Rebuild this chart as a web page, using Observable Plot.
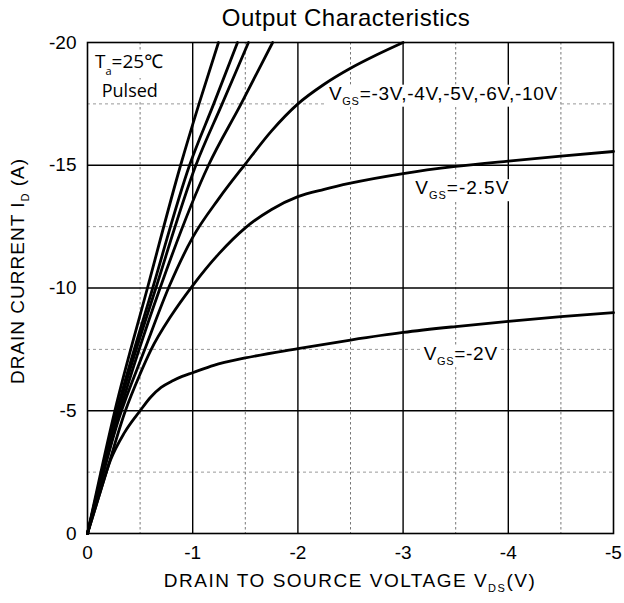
<!DOCTYPE html>
<html><head><meta charset="utf-8">
<script src="https://cdn.jsdelivr.net/npm/d3@7"></script>
<script src="https://cdn.jsdelivr.net/npm/@observablehq/plot@0.6"></script>
<style>body{margin:0;background:#fff} #chart svg{display:block;background:#fff}</style>
</head><body><div id="chart"></div>
<script>
// ---- data ----
const xTicks = [0, -1, -2, -3, -4, -5];
const yTicks = [0, -5, -10, -15, -20];
const xMinor = [-0.5, -1.5, -2.5, -3.5, -4.5];
const yMinor = [-2.5, -7.5, -12.5, -17.5];

const vgsNames = ["-2V", "-2.5V", "-3V", "-4V", "-5V", "-6V", "-10V"];

const vds_2V = [0, -0.1, -0.22, -0.35, -0.5, -0.6, -0.7, -0.8, -0.9, -1.0, -1.2, -1.5, -2, -2.5, -3, -3.5, -4, -4.5, -5];
const id_2V  = [0, -1.4, -3.0, -4.1, -5.0, -5.55, -5.95, -6.2, -6.4, -6.55, -6.85, -7.15, -7.53, -7.88, -8.19, -8.43, -8.64, -8.83, -9.0];

const vds_25V = [0, -0.2, -0.36, -0.5, -0.6, -0.8, -1.0, -1.25, -1.5, -1.75, -2, -2.25, -2.5, -3, -3.5, -4, -4.5, -5];
const id_25V  = [0, -2.8, -5.0, -6.5, -7.45, -8.9, -10.1, -11.4, -12.45, -13.2, -13.72, -14.02, -14.27, -14.66, -14.95, -15.17, -15.37, -15.56];

const vds_3V = [0, -0.3, -0.54, -0.78, -1.0, -1.25, -1.5, -1.75, -2.0, -2.25, -2.5, -2.75, -3.0];
const id_3V  = [0, -4.7, -7.45, -10.1, -12.06, -13.65, -15.05, -16.4, -17.5, -18.3, -18.95, -19.5, -20.0];

const vds_4V = [0, -0.31, -0.69, -1.15, -1.46, -1.76];
const id_4V  = [0, -5, -10, -15, -17.5, -20];

const vds_5V = [0, -0.29, -0.65, -1.03, -1.28, -1.53];
const id_5V  = [0, -5, -10, -15, -17.5, -20];

const vds_6V = [0, -0.28, -0.62, -0.97, -1.2, -1.426];
const id_6V  = [0, -5, -10, -15, -17.5, -20];

const vds_10V = [0, -0.26, -0.57, -0.885, -1.06, -1.245];
const id_10V  = [0, -5, -10, -15, -17.5, -20];

const seriesX = [vds_2V, vds_25V, vds_3V, vds_4V, vds_5V, vds_6V, vds_10V];
const seriesY = [id_2V, id_25V, id_3V, id_4V, id_5V, id_6V, id_10V];

const titleText = "Output Characteristics";
const xLabelParts = [["DRAIN TO SOURCE VOLTAGE V", false], ["DS", true], ["(V)", false]];
const yLabelParts = [["DRAIN CURRENT I", false], ["D", true], [" (A)", false]];

// annotations: [vds, id, parts]
const noteTa = { x: -0.076, y: -18.94, parts: [["T", false], ["a", true], ["=25℃", false]] };
const notePulsed = { x: -0.14, y: -17.75, parts: [["Pulsed", false]] };
const noteVgs3 = { x: -2.3, y: -17.65, parts: [["V", false], ["GS", true], ["=-3V,-4V,-5V,-6V,-10V", false]] };
const noteVgs25 = { x: -3.12, y: -13.8, parts: [["V", false], ["GS", true], ["=-2.5V", false]] };
const noteVgs2 = { x: -3.2, y: -7.05, parts: [["V", false], ["GS", true], ["=-2V", false]] };

// build table
const table = [];
vgsNames.forEach((name, i) => {
  seriesX[i].forEach((v, j) => table.push({ vgs: name, vds: v, id: seriesY[i][j] }));
});

const FONT = "Arial, 'Liberation Sans', Helvetica, sans-serif";

const chart = Plot.plot({
  width: 624,
  height: 603,
  marginLeft: 87,
  marginRight: 11,
  marginTop: 42,
  marginBottom: 70,
  style: { fontFamily: FONT, background: "#fff" },
  x: { domain: [0, -5], ticks: xTicks, tickFormat: d => String(d) },
  y: { domain: [0, -20], ticks: yTicks, tickFormat: d => String(d) },
  marks: [
    Plot.ruleX(xMinor, { stroke: "#777", strokeWidth: 1, strokeDasharray: "2.5,2.5" }),
    Plot.ruleY(yMinor, { stroke: "#999", strokeWidth: 1, strokeDasharray: "3,3" }),
    Plot.ruleX(xTicks.slice(1, -1), { stroke: "#000", strokeWidth: 1.4 }),
    Plot.ruleY(yTicks.slice(1, -1), { stroke: "#000", strokeWidth: 1.4 }),
    Plot.frame({ stroke: "#000", strokeWidth: 1.6 }),
    Plot.line(table, { x: "vds", y: "id", z: "vgs", curve: "monotone-x", stroke: "#000", strokeWidth: 2.8 }),
    Plot.axisX({ ticks: xTicks, tickFormat: d => String(d), tickSize: 0, tickPadding: 12, fontSize: 19, label: null }),
    Plot.axisY({ ticks: yTicks, tickFormat: d => String(d), tickSize: 0, tickPadding: 11, fontSize: 19, label: null })
  ]
});

document.getElementById("chart").appendChild(chart);

const svg = d3.select(chart);
const sx = chart.scale("x"), sy = chart.scale("y");
const g = svg.append("g");

function rich(x, y, parts, o) {
  const t = g.append("text")
    .attr("x", x).attr("y", y)
    .attr("font-family", o.font || FONT)
    .attr("font-size", o.size)
    .attr("text-anchor", o.anchor || "start")
    .attr("letter-spacing", o.spacing || 0)
    .attr("fill", "#000");
  if (o.rotate) t.attr("transform", `rotate(${o.rotate},${x},${y})`);
  let shifted = false;
  parts.forEach(([txt, sub]) => {
    const ts = t.append("tspan").text(txt);
    if (sub) { ts.attr("font-size", o.subSize).attr("dy", o.subShift); shifted = true; }
    else if (shifted) { ts.attr("dy", -o.subShift); shifted = false; }
  });
  if (o.bg) {
    const b = t.node().getBBox();
    g.insert("rect", () => t.node())
      .attr("x", b.x - 2).attr("y", b.y + 2).attr("width", b.width + 4).attr("height", b.height - 2)
      .attr("fill", "#fff");
  }
  return t;
}

// title
rich(346, 26, [[titleText, false]], { size: 24, anchor: "middle", spacing: 0.5 });
// axis labels
rich(350, 587, xLabelParts, { size: 19, anchor: "middle", subSize: 11, subShift: 5, spacing: 1.5 });
rich(24, 271, yLabelParts, { size: 19, anchor: "middle", subSize: 11, subShift: 5, spacing: 1.0, rotate: -90 });

// annotations
const OPEN = "'Open Sans', 'Noto Sans', sans-serif";
rich(sx.apply(noteTa.x), sy.apply(noteTa.y), noteTa.parts, { size: 19, font: OPEN, subSize: 11, subShift: 7, bg: true });
rich(sx.apply(notePulsed.x), sy.apply(notePulsed.y), notePulsed.parts, { size: 18, font: OPEN, bg: true });
rich(sx.apply(noteVgs3.x), sy.apply(noteVgs3.y), noteVgs3.parts, { size: 19, subSize: 11, subShift: 5, spacing: 0.7, bg: true });
rich(sx.apply(noteVgs25.x), sy.apply(noteVgs25.y), noteVgs25.parts, { size: 19, subSize: 11, subShift: 5, spacing: 1.0, bg: true });
rich(sx.apply(noteVgs2.x), sy.apply(noteVgs2.y), noteVgs2.parts, { size: 19, subSize: 11, subShift: 5, spacing: 0.7, bg: true });
</script>
</body></html>
